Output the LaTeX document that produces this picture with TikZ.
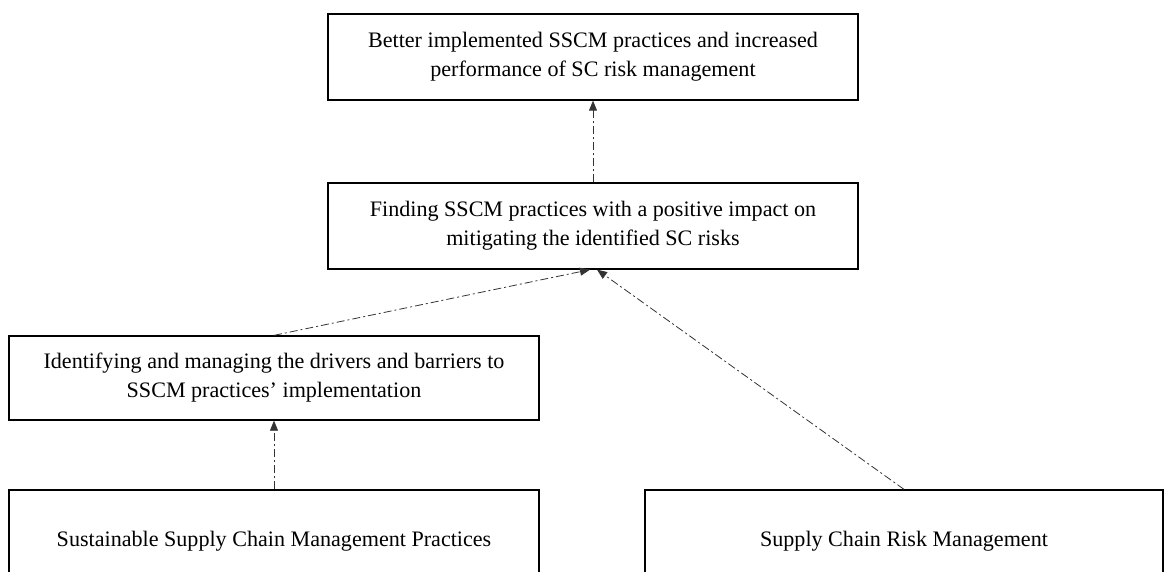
\documentclass[tikz,border=0pt]{standalone}
\usepackage{fontspec}
\setmainfont{Liberation Serif}
\usetikzlibrary{arrows.meta, positioning}
\tikzset{
  every picture/.style={line cap=butt, line join=miter},
  % boxes of the framework
  stage/.style={draw, line width=1.3pt, align=center, minimum width=530pt, minimum height=86pt,
    inner sep=0pt, font=\fontsize{22.1}{29}\selectfont},
  basebox/.style={stage, minimum height=102pt},
  % dash-dot connectors
  link/.style={-{Triangle[length=10pt, width=8pt]}, line width=0.8pt, black!80,
    dash pattern=on 8pt off 3pt on 2pt off 3pt},
}

\begin{document}
\begin{tikzpicture}[x=1pt, y=-1pt]
  \useasboundingbox (0,0) rectangle (1166,572);
  \clip (0,0) rectangle (1166,572);
  % ---- upper part: outcome and common goal
  \node[stage] (outcome) at (593,57) {Better implemented SSCM practices and increased\\performance of SC risk management};
  \node[stage] (goal) at (593,226) {Finding SSCM practices with a positive impact on\\mitigating the identified SC risks};
  % ---- drivers and barriers
  \node[stage, minimum height=84pt] (drivers) at (274,378) {Identifying and managing the drivers and barriers to\\SSCM practices' implementation};
  % ---- the two fields at the bottom
  \node[basebox] (sscm) at (274,541) {Sustainable Supply Chain Management Practices};
  \node[basebox, minimum width=518pt] (scrm) at (904,541) {Supply Chain Risk Management};
  % ---- connectors
  \draw[link] (goal) -- (outcome);
  \draw[link] (sscm) -- (drivers);
  \draw[link] (drivers.north) -- ([xshift=-3pt]goal.south);
  \draw[link] (scrm.north) -- ([xshift=4pt]goal.south);
\end{tikzpicture}
\end{document}
